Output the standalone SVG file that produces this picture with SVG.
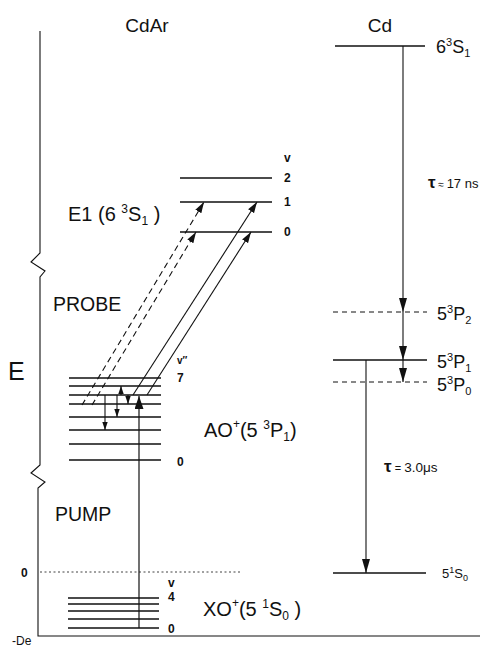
<svg xmlns="http://www.w3.org/2000/svg" width="487" height="648" viewBox="0 0 487 648">
<style>
text{font-family:"Liberation Sans",Arial,sans-serif;fill:#111}
.lvl{stroke:#111;stroke-width:1.3;fill:none}
.ln{stroke:#111;stroke-width:1.1;fill:none}
.dash{stroke:#111;stroke-width:1.1;fill:none;stroke-dasharray:6,4}
.cdash{stroke:#111;stroke-width:1;fill:none;stroke-dasharray:5,4}
.dot{stroke:#111;stroke-width:0.8;fill:none;stroke-dasharray:2,2.5}
.big{font-size:20px}
.num{font-size:12px;font-weight:bold}
.cdl{font-size:18px}
</style>
<defs>
<marker id="ah" markerUnits="userSpaceOnUse" markerWidth="11" markerHeight="8" refX="11" refY="4" orient="auto"><path d="M0,0.5 L11,4 L0,7.5 z" fill="#111"/></marker>
<marker id="ahc" markerUnits="userSpaceOnUse" markerWidth="14" markerHeight="9" refX="14" refY="4.5" orient="auto"><path d="M0,0.5 L14,4.5 L0,8.5 z" fill="#111"/></marker>
<marker id="ahs" markerUnits="userSpaceOnUse" markerWidth="8" markerHeight="6" refX="8" refY="3" orient="auto"><path d="M0,0.3 L8,3 L0,5.7 z" fill="#111"/></marker>
<marker id="ahb" markerUnits="userSpaceOnUse" markerWidth="15" markerHeight="9" refX="13" refY="4.5" orient="auto"><path d="M0,0 L13,4.5 L0,9 z" fill="#111"/></marker>
</defs>

<g id="axis">
<path class="ln" d="M40,31 V253 L31,262 L45,271 L40,277 V465 L31,473 L45,482 L38,488 V636 H480"/>
<text x="8" y="380" style="font-size:25px">E</text>
<text x="12" y="645" style="font-size:12px">-De</text>
<path class="dot" d="M40,572 H240"/>
<text x="21" y="577" class="num">0</text>
</g>

<g id="titles">
<text x="147" y="32" text-anchor="middle" style="font-size:19px">CdAr</text>
<text x="380" y="32" text-anchor="middle" style="font-size:19px">Cd</text>
</g>

<g id="E1">
<path class="lvl" d="M180,178 H272 M180,202 H272 M180,232 H272"/>
<text x="68" y="221" class="big">E1 (6 <tspan dy="-8" style="font-size:12px">3</tspan><tspan dy="8">S</tspan><tspan dy="4" style="font-size:12px">1</tspan><tspan dy="-4"> )</tspan></text>
<text x="284" y="162" class="num">v</text>
<text x="284" y="182" class="num">2</text>
<text x="284" y="206" class="num">1</text>
<text x="284" y="236" class="num">0</text>
</g>

<g id="AO">
<path class="lvl" d="M69,378 H161 M69,386 H161 M69,395 H161 M69,404 H161 M69,417 H161 M69,430 H161 M69,444 H161 M69,460 H161"/>
<text x="204" y="437" class="big">AO<tspan dy="-9" style="font-size:12px">+</tspan><tspan dy="9">(5 </tspan><tspan dy="-8" style="font-size:12px">3</tspan><tspan dy="8">P</tspan><tspan dy="4" style="font-size:12px">1</tspan><tspan dy="-4">)</tspan></text>
<text x="177" y="364" style="font-size:10px;font-weight:bold">v″</text>
<text x="177" y="382" class="num">7</text>
<text x="177" y="466" class="num">0</text>
</g>

<g id="XO">
<path class="lvl" d="M68,598 H159 M68,604 H159 M68,611 H159 M68,619 H159 M68,628 H159"/>
<text x="203" y="616" class="big">XO<tspan dy="-9" style="font-size:12px">+</tspan><tspan dy="9">(5 </tspan><tspan dy="-8" style="font-size:12px">1</tspan><tspan dy="8">S</tspan><tspan dy="4" style="font-size:12px">0</tspan><tspan dy="-4"> )</tspan></text>
<text x="168" y="587" class="num">v</text>
<text x="168" y="601" class="num">4</text>
<text x="168" y="633" class="num">0</text>
</g>

<g id="labels">
<text x="53" y="311" style="font-size:19.5px">PROBE</text>
<text x="55" y="521" style="font-size:19.5px">PUMP</text>
</g>

<g id="Cd-6S1">
<path class="lvl" d="M335,46 H425"/>
<text x="436" y="53" class="cdl">6<tspan dy="-7" style="font-size:11px">3</tspan><tspan dy="7">S</tspan><tspan dy="4" style="font-size:11px">1</tspan></text>
</g>
<g id="Cd-5P2">
<path class="cdash" d="M333,312 H427"/>
<text x="437" y="320" class="cdl">5<tspan dy="-7" style="font-size:11px">3</tspan><tspan dy="7">P</tspan><tspan dy="4" style="font-size:11px">2</tspan></text>
</g>
<g id="Cd-5P1">
<path class="lvl" d="M333,360 H427"/>
<text x="437" y="368" class="cdl">5<tspan dy="-7" style="font-size:11px">3</tspan><tspan dy="7">P</tspan><tspan dy="4" style="font-size:11px">1</tspan></text>
</g>
<g id="Cd-5P0">
<path class="cdash" d="M333,382 H427"/>
<text x="437" y="391" class="cdl">5<tspan dy="-7" style="font-size:11px">3</tspan><tspan dy="7">P</tspan><tspan dy="4" style="font-size:11px">0</tspan></text>
</g>
<g id="Cd-5S0">
<path class="lvl" d="M333,573 H426"/>
<text x="442" y="578" style="font-size:13px">5<tspan dy="-5" style="font-size:9px">1</tspan><tspan dy="5">S</tspan><tspan dy="3" style="font-size:9px">0</tspan></text>
</g>
<g id="Cd-lifetimes">
<text x="428" y="188"><tspan style="font-size:17px;font-weight:bold">τ</tspan><tspan style="font-size:10px"> ≈ </tspan><tspan style="font-size:13px">17 ns</tspan></text>
<text x="384" y="472"><tspan style="font-size:17px;font-weight:bold">τ</tspan><tspan style="font-size:11px">  = </tspan><tspan style="font-size:13.5px">3.0μs</tspan></text>
</g>

<g id="connectors">
<path class="ln" d="M403,46 V312" marker-end="url(#ahc)"/>
<path class="ln" d="M403,312 V360" marker-end="url(#ahc)"/>
<path class="ln" d="M403,360 V382" marker-end="url(#ahc)"/>
<path class="ln" d="M366,360 V573" marker-end="url(#ahc)"/>
<path class="ln" d="M139,628 V396" style="stroke-width:1.2" marker-end="url(#ahb)"/>
<path class="dash" d="M82,405 L204,202" marker-end="url(#ah)"/>
<path class="dash" d="M92,405 L196,232" marker-end="url(#ah)"/>
<path class="ln" d="M133,395 L257,202" marker-end="url(#ah)"/>
<path class="ln" d="M147,395 L251,232" marker-end="url(#ah)"/>
<path class="ln" d="M105,395 V430" marker-end="url(#ahs)"/>
<path class="ln" d="M117,395 V417" marker-end="url(#ahs)"/>
<path class="ln" d="M121,395 V386" marker-end="url(#ahs)"/>
<path class="ln" d="M128,395 V404" marker-end="url(#ahs)"/>
</g>
</svg>
